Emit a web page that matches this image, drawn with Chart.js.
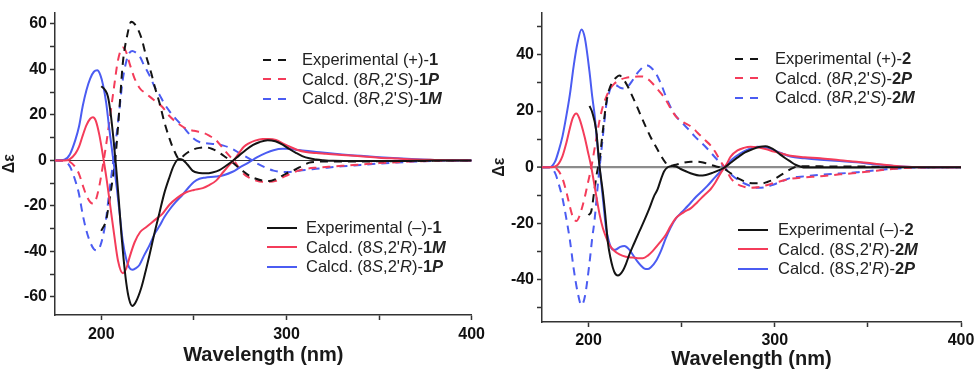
<!DOCTYPE html>
<html>
<head>
<meta charset="utf-8">
<script src="https://cdn.jsdelivr.net/npm/chart.js@4.4.1/dist/chart.umd.min.js"></script>
<style>
  body { margin: 0; background: #fff; width: 980px; height: 372px; overflow: hidden;
         font-family: "Liberation Sans", Arial, sans-serif; }
  .panel { position: absolute; top: 0; width: 490px; height: 372px; }
  .legend { position: absolute; font-size: 16.5px; color: #222; }
  .legend .row { display: flex; align-items: center; height: 19.5px; white-space: nowrap; }
  .legend .key { display: inline-block; height: 2px; }
</style>
</head>
<body>
<div class="panel" id="panelA" style="left:0"><canvas id="cdA" width="490" height="372"></canvas></div>
<div class="panel" id="panelB" style="left:490px"><canvas id="cdB" width="490" height="372"></canvas></div>
<script>
// ---------- panel 1 : compound 1 ----------
const wlExpPlus1 = [200, 202.7, 204.5, 206, 207.5, 209.9, 211.6, 214, 216.2, 218.5, 221.6, 224, 227, 229, 231.4, 234, 236.8, 239.5, 242.2, 245, 249.4, 253, 256.6, 260, 263.8, 267, 270, 273, 276.3, 280, 283.6, 287, 290.7, 294, 297.9, 301, 305.1, 308.5, 312.3, 316, 320, 330, 340, 350, 360, 370, 380, 400];
const expPlus1 = [-31, -26, -17, -9, 0, 24, 42.6, 55, 61, 59.5, 54, 46.5, 38.3, 32, 25.4, 17, 9.7, 4, 0.5, 2.5, 4.7, 5.5, 5.7, 5, 3.3, 1.5, -0.3, -2.4, -4.6, -6.8, -8.1, -8.9, -9.1, -8.3, -6.7, -5.3, -3.9, -2.4, -1, -0.6, -0.5, -0.5, -0.5, -0.4, -0.3, -0.2, -0.1, 0];

const wlExpMinus1 = [200, 202, 203.6, 205, 206.5, 208, 209.5, 210.8, 212, 213.5, 215, 216.7, 218.5, 221.6, 224, 226, 229, 231.4, 234, 236.8, 239, 241.8, 244, 246.5, 249.4, 253, 256.6, 260, 263.8, 267, 270.9, 274.5, 278.2, 282, 285.3, 289.8, 294, 297.9, 301.5, 305.1, 308.5, 312.3, 316, 319.5, 325, 340, 360, 380, 400];
const expMinus1 = [32.6, 31, 28, 21, 10, -3, -18, -32, -43, -54, -61, -64, -62.5, -56, -48.5, -41.7, -31, -23.1, -14.5, -7.4, -2.5, 0.6, 0.2, -1.8, -4.6, -5.5, -5.7, -5.3, -4.3, -2.6, -0.3, 2.2, 4.7, 6.8, 8, 8.9, 8.4, 6.9, 5, 3.3, 1.9, 0.9, 0.4, 0.1, -0.2, -0.3, -0.3, -0.1, 0];

// calcd (8S,2'R)-1M and its mirror (8R,2'S)-1P share one wavelength grid
const wlCalcM1 = [175, 180, 183, 186, 188, 190, 192, 194, 195.5, 197, 199, 201, 203, 205, 207, 209, 211.6, 213.5, 215.5, 218, 221, 224, 227, 230, 233, 236.8, 241, 245.8, 250, 254.8, 258, 262, 266, 269.2, 271.5, 274.6, 277, 279.9, 283, 287.1, 290.5, 294.3, 298, 301.5, 306, 310.5, 316, 321.3, 330, 340, 350, 360, 370, 380, 390, 400];
const calcSR1M = [0, 0, 0.6, 3, 6, 11, 15.5, 18.3, 19, 17.5, 11, 1.5, -9, -21, -33, -44, -49.6, -47.5, -42, -36, -31.5, -29.5, -27.5, -25.5, -23.5, -19.5, -16.5, -14, -13, -12.2, -11, -8.9, -5, -2, 0, 3.5, 6, 7.6, 8.7, 9.4, 9.4, 9, 7.5, 6.1, 4.6, 3.7, 3.2, 2.9, 2.4, 1.8, 1.2, 0.8, 0.4, 0.2, 0.05, 0];
const calcRS1P = [0, 0, -0.6, -3, -6, -11, -15.5, -18.3, -19, -17.5, -11, -1.5, 9, 21, 33, 44, 49.6, 47.5, 42, 36, 31.5, 29.5, 27.5, 25.5, 23.5, 19.5, 16.5, 14, 13, 12.2, 11, 8.9, 5, 2, 0, -3.5, -6, -7.6, -8.7, -9.4, -9.4, -9, -7.5, -6.1, -4.6, -3.7, -3.2, -2.9, -2.4, -1.8, -1.2, -0.8, -0.4, -0.2, -0.05, 0];

// calcd (8S,2'R)-1P and its mirror (8R,2'S)-1M
const wlCalcP1 = [175, 180, 183, 186, 188, 190, 192, 194, 196, 197.8, 199.5, 201, 202.7, 204, 205.4, 207, 208.5, 210, 211.5, 213.5, 215, 216.7, 218.5, 220.6, 223, 226, 229, 231.4, 234, 236.8, 240, 244, 247.6, 250, 253, 256, 262, 266, 270.9, 275, 279.9, 284, 289, 293, 297.9, 301, 305, 310, 316, 322, 330, 340, 350, 360, 370, 380, 390, 400];
const calcSR1P = [0, 0.3, 2.6, 9, 15, 24, 31, 36, 39, 39.6, 37.5, 33, 25, 16, 7, -3, -13, -24, -35, -43.5, -47, -48.1, -47.5, -46, -42, -37.4, -32, -28.9, -25, -21.7, -18.5, -15, -11.5, -9.5, -8.1, -7.6, -7.1, -6.5, -5, -3, -0.8, 1.3, 3.3, 4.5, 5.1, 5.1, 4.7, 4.2, 3.7, 3.2, 2.6, 2, 1.4, 0.9, 0.5, 0.2, 0.05, 0];
const calcRS1M = [0, -0.3, -2.6, -9, -15, -24, -31, -36, -39, -39.6, -37.5, -33, -25, -16, -7, 3, 13, 24, 35, 43.5, 47, 48.1, 47.5, 46, 42, 37.4, 32, 28.9, 25, 21.7, 18.5, 15, 11.5, 9.5, 8.1, 7.6, 7.1, 6.5, 5, 3, 0.8, -1.3, -3.3, -4.5, -5.1, -5.1, -4.7, -4.2, -3.7, -3.2, -2.6, -2, -1.4, -0.9, -0.5, -0.2, -0.05, 0];

// ---------- panel 2 : compound 2 ----------
const wlExpPlus2 = [200, 201.5, 203.2, 204.5, 205.9, 207.7, 209.4, 211, 213, 215, 216.6, 218.5, 221, 223, 225.5, 228, 230.8, 233.5, 236.2, 239, 241.5, 243, 246, 251.4, 255, 258.4, 262, 265.6, 268.5, 271.8, 275, 278.3, 282, 285.5, 289, 293.2, 296, 299.5, 303, 306.6, 309, 312, 316, 330, 350, 370, 400];
const expPlus2 = [-17, -15.5, -7.8, -2, 2.7, 13.1, 22.4, 27.5, 30.5, 32, 32.6, 31.5, 28.8, 26, 22.4, 18.5, 14.3, 10.5, 7.3, 4, 1.5, 0.4, 0.8, 1.7, 2, 2, 1.6, 0.9, 0.3, -0.2, -1.5, -3.1, -4.5, -5.4, -5.7, -5.7, -5.2, -4.3, -2.9, -1.4, -0.5, 0.3, 0.4, 0.3, 0.25, 0.1, 0];

const wlExpMinus2 = [200.5, 202, 204.1, 205.9, 207.7, 209, 210.3, 211.7, 213, 214.3, 215.7, 217, 218.4, 220, 221.9, 224.5, 227.3, 230, 232.6, 235, 237.1, 239, 240.6, 242.5, 245, 247, 249.5, 252.2, 256, 259.4, 263, 266.5, 269.5, 272.7, 276.5, 280.7, 284, 287.9, 291.5, 295, 297.5, 300.4, 303, 305.7, 308.5, 311.1, 314, 316.5, 330, 360, 400];
const expMinus2 = [21.8, 19.5, 13.1, 0.3, -8.9, -17, -26.3, -32, -35.6, -37.8, -38.5, -38, -36.8, -34.5, -31, -27, -22.8, -18.8, -14.7, -10.5, -7.8, -4, -1.4, 0, 0.5, 0.3, -0.6, -1.4, -2.4, -2.9, -2.7, -2, -1.2, -0.2, 1.7, 3.8, 5.3, 6.4, 7.2, 7.5, 7, 5.9, 4.5, 3.2, 2, 0.9, 0.2, -0.1, -0.1, 0, 0];

const wlCalcM2 = [175, 180, 183, 186, 188, 190, 191.5, 193.4, 195, 197.9, 199.5, 201.4, 204.1, 206, 207.7, 209.5, 211.2, 213.5, 216.6, 220, 223.7, 226.5, 229.1, 232, 234.4, 238, 241.5, 244, 247, 251, 255, 258.4, 262, 265.5, 268, 271, 274, 276.3, 280, 283.4, 287, 290.6, 295, 299.5, 304, 308.4, 316, 324.4, 335, 344, 352, 360, 368, 380, 400];
const calcSR2M = [0, 0, 0.6, 4, 8.5, 14, 17.5, 19.1, 17.5, 10.8, 6, 0.3, -10, -17, -21.7, -25, -27.5, -29.5, -31, -31.8, -32.1, -32.3, -32.3, -31.3, -29.8, -27, -24, -21, -18, -16, -14.5, -12.4, -10, -7.8, -5.5, -2, 1, 3.8, 6, 6.9, 7.3, 7.1, 6.5, 5.6, 4.8, 4.1, 3.6, 3.2, 2.5, 2, 1.4, 0.8, 0.3, 0.05, 0];
const calcRS2P = [0, 0, -0.6, -4, -8.5, -14, -17.5, -19.1, -17.5, -10.8, -6, -0.3, 10, 17, 21.7, 25, 27.5, 29.5, 31, 31.8, 32.1, 32.3, 32.3, 31.3, 29.8, 27, 24, 21, 18, 16, 14.5, 12.4, 10, 7.8, 5.5, 2, -1, -3.8, -6, -6.9, -7.3, -7.1, -6.5, -5.6, -4.8, -4.1, -3.6, -3.2, -2.5, -2, -1.4, -0.8, -0.3, -0.05, 0];

const wlCalcP2 = [175, 179, 182, 184, 186, 188, 190, 192, 194, 196.2, 198, 200.5, 202, 203.2, 205, 206.8, 208, 209.4, 210.8, 212.1, 213.5, 214.8, 217, 219.3, 221.5, 223.7, 226, 228.2, 230, 231.7, 233.5, 236.2, 239, 241.5, 244, 246.9, 250, 253.5, 257, 260.3, 263.8, 268, 272.7, 277, 281.6, 286, 290.6, 295, 299.5, 304, 308.4, 316, 324.4, 335, 344, 352, 360, 368, 380, 400];
const calcSR2P = [0, 0, 2, 6, 11, 18, 26, 36, 44, 49, 46, 34, 25, 18.9, 6.1, -5.4, -13, -21.7, -26, -28.6, -29.3, -29.2, -28.3, -28, -29, -31, -33.3, -35, -36, -36.2, -35.5, -33.3, -29.5, -25.2, -21.5, -18.2, -16, -13.6, -11, -8.9, -6.6, -3.5, -0.2, 2.8, 5, 6.4, 7.3, 7.1, 6.1, 4.9, 3.8, 3.2, 2.7, 2.2, 1.8, 1.2, 0.7, 0.3, 0.05, 0];
const calcRS2M = [0, 0, -2, -6, -11, -18, -26, -36, -44, -49, -46, -34, -25, -18.9, -6.1, 5.4, 13, 21.7, 26, 28.6, 29.3, 29.2, 28.3, 28, 29, 31, 33.3, 35, 36, 36.2, 35.5, 33.3, 29.5, 25.2, 21.5, 18.2, 16, 13.6, 11, 8.9, 6.6, 3.5, 0.2, -2.8, -5, -6.4, -7.3, -7.1, -6.1, -4.9, -3.8, -3.2, -2.7, -2.2, -1.8, -1.2, -0.7, -0.3, -0.05, 0];

// axis ticks and legend labels
const xTicks = [200, 250, 300, 350, 400];
const xLabels = [200, 300, 400];
const yTicksA = [-60, -50, -40, -30, -20, -10, 0, 10, 20, 30, 40, 50, 60];
const yTicksB = [-50, -40, -30, -20, -10, 0, 10, 20, 30, 40, 50];
const legendA1 = ["Experimental (+)-<b>1</b>", "Calcd. (8<i>R</i>,2'<i>S</i>)-<b>1<i>P</i></b>", "Calcd. (8<i>R</i>,2'<i>S</i>)-<b>1<i>M</i></b>"];
const legendA2 = ["Experimental (&ndash;)-<b>1</b>", "Calcd. (8<i>S</i>,2'<i>R</i>)-<b>1<i>M</i></b>", "Calcd. (8<i>S</i>,2'<i>R</i>)-<b>1<i>P</i></b>"];
const legendB1 = ["Experimental (+)-<b>2</b>", "Calcd. (8<i>R</i>,2'<i>S</i>)-<b>2<i>P</i></b>", "Calcd. (8<i>R</i>,2'<i>S</i>)-<b>2<i>M</i></b>"];
const legendB2 = ["Experimental (&ndash;)-<b>2</b>", "Calcd. (8<i>S</i>,2'<i>R</i>)-<b>2<i>M</i></b>", "Calcd. (8<i>S</i>,2'<i>R</i>)-<b>2<i>P</i></b>"];

const BLACK = '#141414', RED = '#f43c5a', BLUE = '#4b5cf2';
const DASH = [8, 6];
const FONT = '"Liberation Sans", Arial, sans-serif';

function pts(xs, ys) {
  return xs.map((x, i) => ({ x: x, y: ys[i] }));
}

function line(xs, ys, color, dashed) {
  return {
    data: pts(xs, ys),
    borderColor: color,
    borderWidth: 2,
    borderDash: dashed ? DASH : [],
    pointRadius: 0,
    fill: false,
    cubicInterpolationMode: 'monotone'
  };
}

function makeChart(id, datasets, cfg) {
  const axisColor = '#333';
  return new Chart(document.getElementById(id), {
    type: 'line',
    data: { datasets: datasets },
    options: {
      responsive: false,
      animation: false,
      layout: { padding: cfg.padding },
      plugins: { legend: { display: false }, tooltip: { enabled: false } },
      scales: {
        x: {
          type: 'linear',
          min: 175, max: 400,
          afterBuildTicks: s => { s.ticks = xTicks.map(v => ({ value: v })); },
          afterFit: s => { s.height = cfg.xHeight; },
          ticks: {
            color: '#111', padding: cfg.xTickPad,
            font: { family: FONT, size: 16, weight: 'bold' },
            callback: v => xLabels.includes(v) ? String(v) : ''
          },
          grid: { drawOnChartArea: false, tickLength: 5, tickColor: axisColor, tickWidth: 1.5 },
          border: { color: axisColor, width: 1.5 },
          title: {
            display: true, text: 'Wavelength (nm)', color: '#1a1a1a',
            font: { family: FONT, size: 20, weight: 'bold' },
            padding: { top: 0, bottom: cfg.titlePad }
          }
        },
        y: {
          min: cfg.yMin, max: cfg.yMax,
          afterBuildTicks: s => { s.ticks = cfg.yTicks.map(v => ({ value: v })); },
          afterFit: s => { s.width = cfg.yWidth; },
          ticks: {
            color: '#111', padding: 3,
            font: { family: FONT, size: 16, weight: 'bold' },
            callback: v => v % 20 === 0 ? String(v) : ''
          },
          grid: {
            drawOnChartArea: true,
            color: c => c.tick && c.tick.value === 0 ? cfg.zeroColor : 'rgba(0,0,0,0)',
            lineWidth: c => c.tick && c.tick.value === 0 ? cfg.zeroWidth : 1,
            tickLength: 5, tickColor: axisColor, tickWidth: 1.5
          },
          border: { color: axisColor, width: 1.5 },
          title: {
            display: true, text: 'Δε', color: '#1a1a1a',
            font: { family: FONT, size: 16, weight: 'bold' },
            padding: { top: 0, bottom: 0 }
          }
        }
      }
    }
  });
}

function addLegend(panelId, labels, colors, dashed, pos) {
  const box = document.createElement('div');
  box.className = 'legend';
  box.style.left = pos.left + 'px';
  box.style.top = pos.top + 'px';
  labels.forEach((html, i) => {
    const row = document.createElement('div');
    row.className = 'row';
    const key = document.createElement('span');
    key.className = 'key';
    key.style.width = pos.keyWidth + 'px';
    key.style.marginRight = pos.gap + 'px';
    key.style.background = dashed
      ? `repeating-linear-gradient(to right, ${colors[i]} 0 8px, transparent 8px 15px)`
      : colors[i];
    const txt = document.createElement('span');
    txt.innerHTML = html;
    row.appendChild(key);
    row.appendChild(txt);
    box.appendChild(row);
  });
  document.getElementById(panelId).appendChild(box);
}

// panel 1
makeChart('cdA', [
  line(wlExpMinus1, expMinus1, BLACK, false),
  line(wlCalcM1, calcSR1M, RED, false),
  line(wlCalcP1, calcSR1P, BLUE, false),
  line(wlExpPlus1, expPlus1, BLACK, true),
  line(wlCalcM1, calcRS1P, RED, true),
  line(wlCalcP1, calcRS1M, BLUE, true)
], {
  yMin: -68, yMax: 65, yTicks: yTicksA,
  padding: { left: 0, top: 4, right: 17, bottom: 0 },
  yWidth: 55, xHeight: 57, titlePad: 5, xTickPad: 5,
  zeroColor: '#333', zeroWidth: 1
});

// panel 2
makeChart('cdB', [
  line(wlExpMinus2, expMinus2, BLACK, false),
  line(wlCalcM2, calcSR2M, RED, false),
  line(wlCalcP2, calcSR2P, BLUE, false),
  line(wlExpPlus2, expPlus2, BLACK, true),
  line(wlCalcM2, calcRS2P, RED, true),
  line(wlCalcP2, calcRS2M, BLUE, true)
], {
  yMin: -55, yMax: 55, yTicks: yTicksB,
  padding: { left: 0, top: 7, right: 19, bottom: 0 },
  yWidth: 52, xHeight: 50, titlePad: 1, xTickPad: 4,
  zeroColor: '#8c8c8c', zeroWidth: 2.2
});

addLegend('panelA', legendA1, [BLACK, RED, BLUE], true, { left: 263, top: 50, keyWidth: 24, gap: 15 });
addLegend('panelA', legendA2, [BLACK, RED, BLUE], false, { left: 267, top: 218, keyWidth: 30, gap: 9 });
addLegend('panelB', legendB1, [BLACK, RED, BLUE], true, { left: 245, top: 49, keyWidth: 24, gap: 16 });
addLegend('panelB', legendB2, [BLACK, RED, BLUE], false, { left: 248, top: 220, keyWidth: 30, gap: 10 });
</script>
</body>
</html>
